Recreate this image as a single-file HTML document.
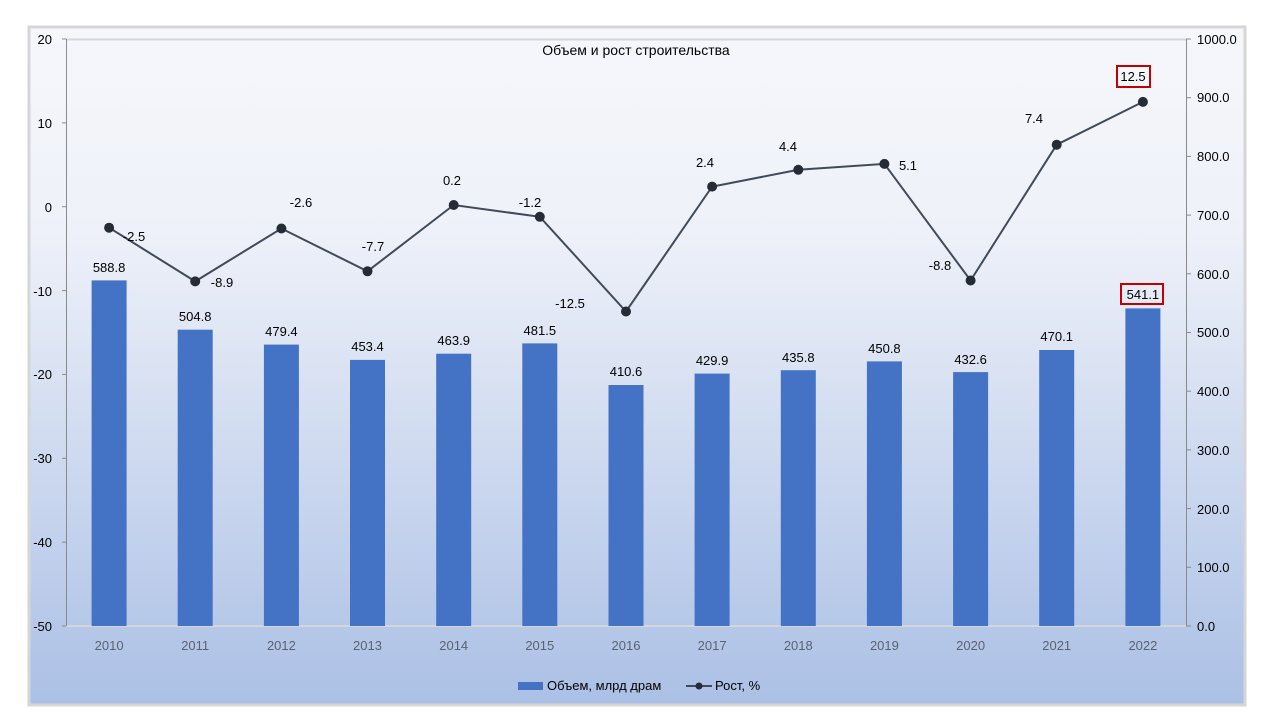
<!DOCTYPE html>
<html><head><meta charset="utf-8"><style>
html,body{margin:0;padding:0;background:#fff;}
svg{display:block;font-family:"Liberation Sans","DejaVu Sans",sans-serif;}
</style></head><body>
<svg width="1280" height="720" viewBox="0 0 1280 720">
<defs><linearGradient id="bg" x1="0" y1="0" x2="0" y2="1">
<stop offset="0" stop-color="#f6f7fb"/><stop offset="0.3" stop-color="#eef1f9"/><stop offset="1" stop-color="#abc0e5"/></linearGradient></defs>
<rect x="29" y="27" width="1216" height="678" fill="url(#bg)" stroke="#d6d6d6" stroke-width="3"/>
<line x1="66" y1="39.5" x2="1186" y2="39.5" stroke="#d4d6da" stroke-width="2"/>
<line x1="66" y1="626" x2="1186" y2="626" stroke="#d4d6da" stroke-width="2"/>
<line x1="66.5" y1="39" x2="66.5" y2="626" stroke="#8a8a8a"/>
<line x1="1186.5" y1="39" x2="1186.5" y2="626" stroke="#8a8a8a"/>
<g stroke="#8a8a8a">
<line x1="62" y1="39" x2="66" y2="39"/><line x1="62" y1="122.9" x2="66" y2="122.9"/><line x1="62" y1="206.7" x2="66" y2="206.7"/><line x1="62" y1="290.6" x2="66" y2="290.6"/><line x1="62" y1="374.4" x2="66" y2="374.4"/><line x1="62" y1="458.3" x2="66" y2="458.3"/><line x1="62" y1="542.1" x2="66" y2="542.1"/><line x1="62" y1="626" x2="66" y2="626"/>
<line x1="1186" y1="39" x2="1191" y2="39"/><line x1="1186" y1="97.7" x2="1191" y2="97.7"/><line x1="1186" y1="156.4" x2="1191" y2="156.4"/><line x1="1186" y1="215.1" x2="1191" y2="215.1"/><line x1="1186" y1="273.8" x2="1191" y2="273.8"/><line x1="1186" y1="332.5" x2="1191" y2="332.5"/><line x1="1186" y1="391.2" x2="1191" y2="391.2"/><line x1="1186" y1="449.9" x2="1191" y2="449.9"/><line x1="1186" y1="508.6" x2="1191" y2="508.6"/><line x1="1186" y1="567.3" x2="1191" y2="567.3"/><line x1="1186" y1="626" x2="1191" y2="626"/>
</g>
<g font-size="13" fill="#000" text-anchor="end">
<text x="52" y="44">20</text><text x="52" y="128">10</text><text x="52" y="212">0</text><text x="52" y="296">-10</text><text x="52" y="379">-20</text><text x="52" y="463">-30</text><text x="52" y="547">-40</text><text x="52" y="631">-50</text>
</g>
<g font-size="13" fill="#000">
<text x="1197" y="44">1000.0</text><text x="1197" y="102">900.0</text><text x="1197" y="161">800.0</text><text x="1197" y="220">700.0</text><text x="1197" y="279">600.0</text><text x="1197" y="337">500.0</text><text x="1197" y="396">400.0</text><text x="1197" y="455">300.0</text><text x="1197" y="514">200.0</text><text x="1197" y="572">100.0</text><text x="1197" y="631">0.0</text>
</g>
<text x="636" y="55" font-size="14" text-anchor="middle" fill="#000">Объем и рост строительства</text>
<g fill="#4472c4">
<rect x="91.6" y="280.4" width="35" height="345.6"/><rect x="177.7" y="329.7" width="35" height="296.3"/><rect x="263.9" y="344.6" width="35" height="281.4"/><rect x="350" y="359.9" width="35" height="266.1"/><rect x="436.2" y="353.7" width="35" height="272.3"/><rect x="522.3" y="343.4" width="35" height="282.6"/><rect x="608.5" y="385" width="35" height="241"/><rect x="694.6" y="373.6" width="35" height="252.4"/><rect x="780.8" y="370.2" width="35" height="255.8"/><rect x="866.9" y="361.4" width="35" height="264.6"/><rect x="953.1" y="372.1" width="35" height="253.9"/><rect x="1039.2" y="350" width="35" height="276"/><rect x="1125.4" y="308.4" width="35" height="317.6"/>
</g>
<g font-size="13" fill="#000" text-anchor="middle">
<text x="109.1" y="272">588.8</text><text x="195.2" y="321">504.8</text><text x="281.4" y="336">479.4</text><text x="367.5" y="351">453.4</text><text x="453.7" y="345">463.9</text><text x="539.8" y="335">481.5</text><text x="626" y="376">410.6</text><text x="712.1" y="365">429.9</text><text x="798.3" y="362">435.8</text><text x="884.4" y="353">450.8</text><text x="970.6" y="364">432.6</text><text x="1056.7" y="341">470.1</text>
<rect x="1121" y="284" width="42" height="20" fill="none" stroke="#c00000" stroke-width="2"/><text x="1142.9" y="299">541.1</text>
</g>
<g font-size="13" fill="#5a6272" text-anchor="middle">
<text x="109.1" y="650">2010</text><text x="195.2" y="650">2011</text><text x="281.4" y="650">2012</text><text x="367.5" y="650">2013</text><text x="453.7" y="650">2014</text><text x="539.8" y="650">2015</text><text x="626" y="650">2016</text><text x="712.1" y="650">2017</text><text x="798.3" y="650">2018</text><text x="884.4" y="650">2019</text><text x="970.6" y="650">2020</text><text x="1056.7" y="650">2021</text><text x="1142.9" y="650">2022</text>
</g>
<polyline fill="none" stroke="#404a59" stroke-width="2" points="109.1,227.7 195.2,281.4 281.4,228.5 367.5,271.3 453.7,205 539.8,216.8 626,311.5 712.1,186.6 798.3,169.8 884.4,163.9 970.6,280.5 1056.7,144.7 1142.9,101.9"/>
<g fill="#262c36">
<circle cx="109.1" cy="227.7" r="5"/><circle cx="195.2" cy="281.4" r="5"/><circle cx="281.4" cy="228.5" r="5"/><circle cx="367.5" cy="271.3" r="5"/><circle cx="453.7" cy="205" r="5"/><circle cx="539.8" cy="216.8" r="5"/><circle cx="626" cy="311.5" r="5"/><circle cx="712.1" cy="186.6" r="5"/><circle cx="798.3" cy="169.8" r="5"/><circle cx="884.4" cy="163.9" r="5"/><circle cx="970.6" cy="280.5" r="5"/><circle cx="1056.7" cy="144.7" r="5"/><circle cx="1142.9" cy="101.9" r="5"/>
</g>
<g font-size="13" fill="#000" text-anchor="middle">
<text x="134" y="241">-2.5</text><text x="222" y="287">-8.9</text><text x="301" y="207">-2.6</text><text x="373" y="251">-7.7</text><text x="452" y="185">0.2</text><text x="530" y="207">-1.2</text><text x="570" y="308">-12.5</text><text x="705" y="167">2.4</text><text x="788" y="151">4.4</text><text x="908" y="170">5.1</text><text x="940" y="270">-8.8</text><text x="1034" y="123">7.4</text>
<rect x="1117" y="66" width="33" height="21" fill="none" stroke="#c00000" stroke-width="2"/><text x="1133" y="81">12.5</text>
</g>
<rect x="518" y="682" width="25" height="8" fill="#4472c4"/>
<text x="547" y="690" font-size="13" fill="#000">Объем, млрд драм</text>
<line x1="686" y1="686" x2="712" y2="686" stroke="#404a59" stroke-width="2"/><circle cx="699" cy="686" r="3.5" fill="#262c36"/>
<text x="715" y="690" font-size="13" fill="#000">Рост, %</text>
</svg>
</body></html>
